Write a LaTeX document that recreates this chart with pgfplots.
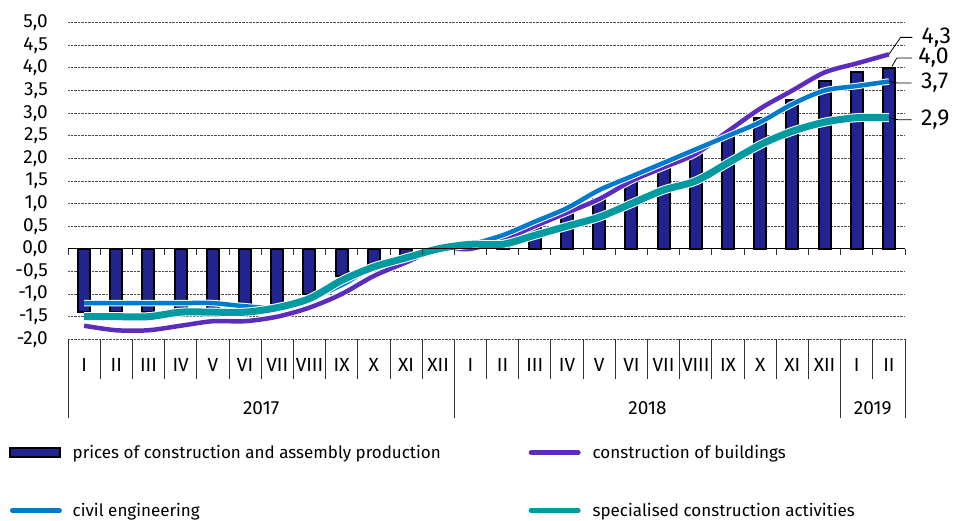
\documentclass[border=0pt]{standalone}
\usepackage{fontspec}
\setmainfont{Fira Sans}
\usepackage{pgfplots}
\pgfplotsset{compat=1.18}
\definecolor{barblue}{RGB}{33,35,145}
\definecolor{bpurple}{RGB}{92,44,190}
\definecolor{cblue}{RGB}{0,122,204}
\definecolor{steal}{RGB}{0,155,160}
\newcommand\TickFont{\fontsize{19}{19}\selectfont}
\newcommand\LegFont{\fontsize{17}{17}\selectfont}
\newcommand\LabFont{\fontsize{23}{23}\selectfont}
\begin{document}
\begin{tikzpicture}[x=1pt,y=1pt]
\useasboundingbox (-68,-181.7) rectangle (889,339.3);
\begin{axis}[
 at={(0,0)}, anchor=south west,
 scale only axis, width=837pt, height=316.6pt,
 xmin=-0.5, xmax=25.5, ymin=-2, ymax=5,
 clip=false,
 axis line style={draw=none},
 major tick length=0pt, tick style={draw=none},
 ytick={-2,-1.5,...,5},
 ymajorgrids, grid style={densely dotted, black!70, line width=0.9pt},
 xtick={0,...,25},
 xticklabels={I,II,III,IV,V,VI,VII,VIII,IX,X,XI,XII,I,II,III,IV,V,VI,VII,VIII,IX,X,XI,XII,I,II},
 xticklabel style={anchor=center, yshift=-25.7pt, font=\TickFont},
 yticklabel style={anchor=east, inner sep=0pt, xshift=-20pt, font=\TickFont,
   /pgf/number format/assume math mode=true,
   /pgf/number format/use comma,
   /pgf/number format/fixed,
   /pgf/number format/fixed zerofill,
   /pgf/number format/precision=1},
 legend columns=2,
 legend cell align=left,
 legend style={at={(axis description cs:-0.0705,-0.328)}, anchor=north west,
   draw=none, fill=none, font=\LegFont, inner sep=0pt,
   row sep=39pt,
   /tikz/every odd column/.append style={column sep=8pt},
   /tikz/every even column/.append style={column sep=0pt}},
]
% prices of construction and assembly production
\addplot[ybar, bar width=12pt, fill=barblue, draw=black, line width=2pt,
  legend image code/.code={\draw[fill=barblue, draw=black, line width=2pt] (1pt,-4.5pt) rectangle (51pt,4.5pt);}]
 coordinates {
 (0,-1.4) (1,-1.4) (2,-1.4) (3,-1.4) (4,-1.4) (5,-1.4) (6,-1.3) (7,-1.0) (8,-0.6) (9,-0.35) (10,-0.15) (11,0.0)
 (12,0.1) (13,0.1) (14,0.5) (15,0.8) (16,1.1) (17,1.5) (18,1.8) (19,2.1) (20,2.5) (21,2.9) (22,3.3) (23,3.7)
 (24,3.9) (25,4.0)};
\addlegendentry{\makebox[452pt][l]{prices of construction and assembly production}}
% construction of buildings
\addplot[bpurple, line width=4.5pt, smooth, mark=none, preaction={draw=white, line width=6.5pt},
  legend image code/.code={\draw[bpurple, line width=5pt, line cap=round] (3pt,0pt) -- (50pt,0pt);}]
 coordinates {
 (0,-1.7) (1,-1.8) (2,-1.8) (3,-1.7) (4,-1.6) (5,-1.6) (6,-1.5) (7,-1.3) (8,-1.0) (9,-0.6) (10,-0.3) (11,0.0)
 (12,0.0) (13,0.2) (14,0.5) (15,0.8) (16,1.1) (17,1.5) (18,1.8) (19,2.1) (20,2.6) (21,3.1) (22,3.5) (23,3.9)
 (24,4.1) (25,4.3)};
\addlegendentry{construction of buildings}
% civil engineering
\addplot[cblue, line width=4.5pt, smooth, mark=none, preaction={draw=white, line width=6.5pt},
  legend image code/.code={\draw[cblue, line width=5pt, line cap=round] (3pt,0pt) -- (50pt,0pt);}]
 coordinates {
 (0,-1.2) (1,-1.2) (2,-1.2) (3,-1.2) (4,-1.2) (5,-1.27) (6,-1.3) (7,-1.1) (8,-0.8) (9,-0.4) (10,-0.2) (11,0.0)
 (12,0.1) (13,0.3) (14,0.6) (15,0.9) (16,1.3) (17,1.6) (18,1.9) (19,2.2) (20,2.5) (21,2.8) (22,3.2) (23,3.5)
 (24,3.6) (25,3.7)};
\addlegendentry{\makebox[452pt][l]{civil engineering}}
% specialised construction activities
\addplot[steal, line width=7pt, smooth, mark=none, preaction={draw=white, line width=9pt},
  legend image code/.code={\draw[steal, line width=5pt, line cap=round] (3pt,0pt) -- (50pt,0pt);}]
 coordinates {
 (0,-1.5) (1,-1.5) (2,-1.5) (3,-1.4) (4,-1.4) (5,-1.4) (6,-1.3) (7,-1.1) (8,-0.7) (9,-0.4) (10,-0.2) (11,0.0)
 (12,0.1) (13,0.1) (14,0.3) (15,0.5) (16,0.7) (17,1.0) (18,1.3) (19,1.5) (20,1.9) (21,2.3) (22,2.6) (23,2.8)
 (24,2.9) (25,2.9)};
\addlegendentry{specialised construction activities}
% zero line with ticks
\draw[black, line width=1.3pt] (axis cs:-0.5,0) -- (axis cs:25.5,0);
\pgfplotsinvokeforeach{-0.5,0.5,...,25.5}{\draw[black!80, line width=0.8pt] (axis cs:#1,0) -- ++(0pt,-6pt);}
% category separators
\pgfplotsinvokeforeach{0.5,1.5,...,24.5}{\draw[black!80, line width=0.8pt] (axis cs:#1,-2) -- ++(0pt,-40pt);}
\pgfplotsinvokeforeach{-0.5,11.5,23.5,25.5}{\draw[black!80, line width=0.8pt] (axis cs:#1,-2) -- ++(0pt,-79pt);}
% year labels
\node[font=\TickFont] at ([yshift=-68.7pt]axis cs:5.5,-2) {2017};
\node[font=\TickFont] at ([yshift=-68.7pt]axis cs:17.5,-2) {2018};
\node[font=\TickFont] at ([yshift=-68.7pt]axis cs:24.5,-2) {2019};
% end value labels
\draw[black, line width=0.8pt] (axis cs:25,4.3) -- ++(11.7pt,17pt) -- ++(11.7pt,0pt) node[anchor=west, inner sep=0pt, xshift=9pt, font=\LabFont] {4,3};
\draw[black, line width=0.8pt] ([xshift=3pt,yshift=1.5pt]axis cs:25,4.0) -- ++(5pt,8.5pt) -- ++(15pt,0pt) node[anchor=west, inner sep=0pt, xshift=6pt, font=\LabFont] {4,0};
\draw[black, line width=0.8pt] (axis cs:25,3.7) -- ++(9pt,-1.5pt) -- ++(13.7pt,0pt) node[anchor=west, inner sep=0pt, xshift=9pt, font=\LabFont] {3,7};
\draw[black, line width=0.8pt] (axis cs:25,2.9) -- ++(9pt,-2pt) -- ++(13.7pt,0pt) node[anchor=west, inner sep=0pt, xshift=9pt, font=\LabFont] {2,9};
\end{axis}
\end{tikzpicture}
\end{document}
